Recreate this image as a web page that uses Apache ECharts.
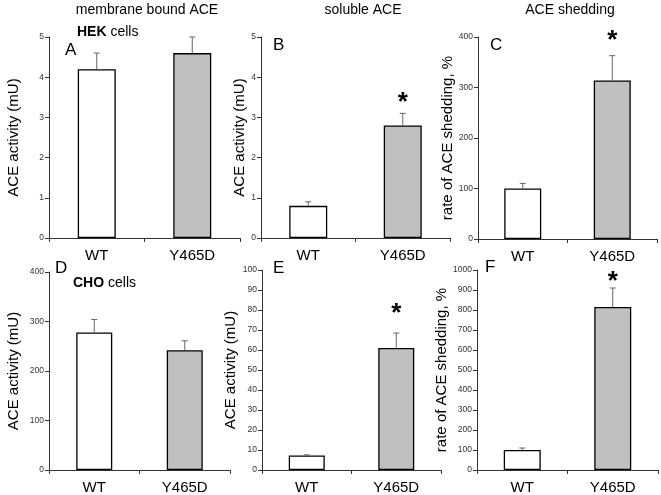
<!DOCTYPE html>
<html><head><meta charset="utf-8">
<script src="https://cdn.jsdelivr.net/npm/echarts@6/dist/echarts.min.js"></script>
<style>html,body{margin:0;padding:0;background:#fff}#c{width:661px;height:495px}</style>
</head><body><div id="c"></div>
<script>
const categories = ['WT', 'Y465D'];
// HEK cells
const hekMembrane = [4.2, 4.6];
const hekMembraneErr = [0.4, 0.4];
const hekSoluble = [0.8, 2.8];
const hekSolubleErr = [0.1, 0.3];
const hekShedding = [100, 314];
const hekSheddingErr = [10, 49];
// CHO cells
const choMembrane = [278, 242];
const choMembraneErr = [26, 19];
const choSoluble = [7.3, 61];
const choSolubleErr = [0.3, 7.5];
const choShedding = [100, 815];
const choSheddingErr = [10, 95];
// significance star positions (value units), null = none
const hekStars = [null, 3.53, 407];
const choStars = [null, 81.5, 975];
// y axis ticks [max, interval]
const yTicks = [[5, 1], [5, 1], [400, 100], [400, 100], [100, 10], [1000, 100]];
const yNames = ['ACE activity (mU)', 'ACE activity (mU)', 'rate of ACE shedding, %',
                'ACE activity (mU)', 'ACE activity (mU)', 'rate of ACE shedding, %'];

const panels = [
  {vals: hekMembrane, err: hekMembraneErr, star: hekStars[0]},
  {vals: hekSoluble, err: hekSolubleErr, star: hekStars[1]},
  {vals: hekShedding, err: hekSheddingErr, star: hekStars[2]},
  {vals: choMembrane, err: choMembraneErr, star: choStars[0]},
  {vals: choSoluble, err: choSolubleErr, star: choStars[1]},
  {vals: choShedding, err: choSheddingErr, star: choStars[2]},
];
const grids = [
  {left: 49, right: 421, top: 37, bottom: 257},
  {left: 261, right: 211, top: 37, bottom: 257},
  {left: 478, right: 4, top: 37, bottom: 256},
  {left: 49, right: 431, top: 272, bottom: 22},
  {left: 262, right: 220, top: 270, bottom: 23},
  {left: 477, right: 3, top: 270, bottom: 25},
];
const nameGaps = [28, 13, 22, 28, 24, 22];
const barW = [38, 38, 37, 36, 36, 37];
const axisColor = '#333';
const FONT = 'Liberation Sans, Arial, sans-serif';

const xAxis = [], yAxis = [], series = [];
panels.forEach((p, i) => {
  xAxis.push({
    type: 'category', gridIndex: i, data: categories,
    axisLine: {lineStyle: {color: axisColor, width: 1}},
    axisTick: {show: true, length: 4, inside: false, lineStyle: {color: axisColor}},
    axisLabel: {color: '#000', fontSize: 15, fontFamily: FONT, margin: 10}
  });
  yAxis.push({
    type: 'value', gridIndex: i, min: 0, max: yTicks[i][0], interval: yTicks[i][1],
    splitLine: {show: false},
    axisLine: {show: true, lineStyle: {color: axisColor, width: 1}},
    axisTick: {show: true, length: 4, lineStyle: {color: axisColor}},
    axisLabel: {color: '#333', fontSize: 8.5, fontFamily: FONT, margin: 5, formatter: v => String(v)},
    name: yNames[i], nameLocation: 'middle', nameGap: nameGaps[i],
    nameTextStyle: {color: '#000', fontSize: 15, fontFamily: FONT}
  });
  series.push({
    type: 'bar', xAxisIndex: i, yAxisIndex: i, barWidth: barW[i],
    data: p.vals.map((v, j) => ({value: v, itemStyle: {color: j === 0 ? '#ffffff' : '#c0c0c0', borderColor: '#000', borderWidth: 1.3}})),
    z: 2
  });
  series.push({
    type: 'custom', xAxisIndex: i, yAxisIndex: i, z: 3,
    data: p.vals.map((v, j) => [j, v, v + p.err[j]]),
    renderItem: function (params, api) {
      const base = api.coord([api.value(0), api.value(1)]);
      const top = api.coord([api.value(0), api.value(2)]);
      const hw = 3;
      return {type: 'group', children: [
        {type: 'line', shape: {x1: base[0], y1: base[1], x2: top[0], y2: top[1]}, style: {stroke: '#666', lineWidth: 1}},
        {type: 'line', shape: {x1: top[0] - hw, y1: top[1], x2: top[0] + hw, y2: top[1]}, style: {stroke: '#666', lineWidth: 1}}
      ]};
    }
  });
  if (p.star != null) {
    series.push({
      type: 'custom', xAxisIndex: i, yAxisIndex: i, clip: false, z: 4,
      data: [[1, p.star]],
      renderItem: function (params, api) {
        const c = api.coord([api.value(0), api.value(1)]);
        return {type: 'text', x: c[0], y: c[1] + 7, style: {text: '*', font: 'bold 26px ' + FONT, fill: '#000', align: 'center', verticalAlign: 'middle'}};
      }
    });
  }
});

const graphic = [
  {type: 'text', x: 147, y: 10, style: {text: 'membrane bound ACE', font: '14px ' + FONT, fill: '#000', align: 'center', verticalAlign: 'middle'}},
  {type: 'text', x: 363, y: 10, style: {text: 'soluble ACE', font: '14px ' + FONT, fill: '#000', align: 'center', verticalAlign: 'middle'}},
  {type: 'text', x: 570, y: 10, style: {text: 'ACE shedding', font: '14px ' + FONT, fill: '#000', align: 'center', verticalAlign: 'middle'}},
  {type: 'text', x: 77, y: 32, style: {text: '{b|HEK} cells', font: '14px ' + FONT, fill: '#000', verticalAlign: 'middle', rich: {b: {fontWeight: 'bold', fontSize: 14, fontFamily: FONT}}}},
  {type: 'text', x: 73, y: 283, style: {text: '{b|CHO} cells', font: '14px ' + FONT, fill: '#000', verticalAlign: 'middle', rich: {b: {fontWeight: 'bold', fontSize: 14, fontFamily: FONT}}}},
  {type: 'text', x: 65, y: 50, style: {text: 'A', font: '17px ' + FONT, fill: '#000', verticalAlign: 'middle'}},
  {type: 'text', x: 273, y: 45, style: {text: 'B', font: '17px ' + FONT, fill: '#000', verticalAlign: 'middle'}},
  {type: 'text', x: 490, y: 45, style: {text: 'C', font: '17px ' + FONT, fill: '#000', verticalAlign: 'middle'}},
  {type: 'text', x: 55, y: 268, style: {text: 'D', font: '17px ' + FONT, fill: '#000', verticalAlign: 'middle'}},
  {type: 'text', x: 273, y: 268, style: {text: 'E', font: '17px ' + FONT, fill: '#000', verticalAlign: 'middle'}},
  {type: 'text', x: 485, y: 267, style: {text: 'F', font: '17px ' + FONT, fill: '#000', verticalAlign: 'middle'}},
];

const chart = echarts.init(document.getElementById('c'), null, {renderer: 'canvas'});
chart.setOption({
  animation: false,
  backgroundColor: '#fff',
  grid: grids.map(g => Object.assign({containLabel: false}, g)),
  xAxis: xAxis, yAxis: yAxis, series: series, graphic: graphic
});
</script></body></html>
